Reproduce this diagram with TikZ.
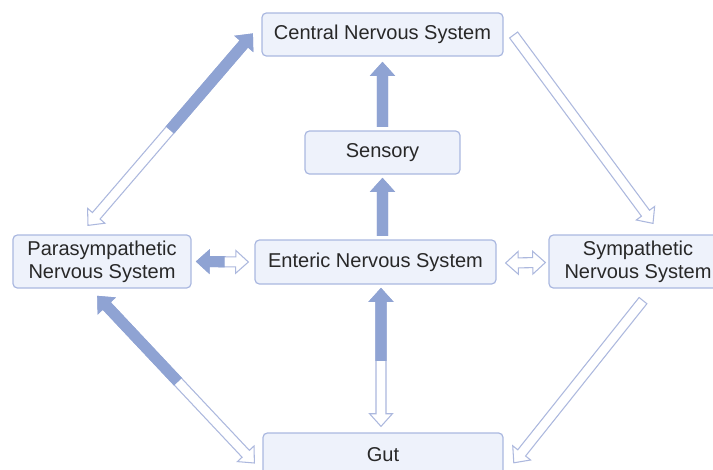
\documentclass[tikz,border=0pt]{standalone}
\usepackage{fontspec}
\setmainfont{Liberation Sans}
\usetikzlibrary{calc}

\definecolor{boxfill}{RGB}{238,242,251}
\definecolor{boxline}{RGB}{170,184,224}
\definecolor{arrowblue}{RGB}{143,163,211}
\definecolor{arrowline}{RGB}{172,184,222}
\definecolor{textgray}{RGB}{40,40,40}

\tikzset{
  sysbox/.style={draw=boxline, fill=boxfill, rounded corners=2.5pt, line width=0.7pt,
    inner sep=0pt, align=center, text=textgray, font=\fontsize{11.4}{13}\selectfont},
  hollowarrow/.style={draw=arrowline, fill=white, line width=0.6pt},
  filledarrow/.style={draw=arrowblue, fill=arrowblue, line width=0.6pt}
}

% block arrow from #1 to #2, head at #2; part from fraction #3 to #2 filled; #4=1 adds a head at #1
\newcommand{\blockarrow}[4]{%
  \pgfpointdiff{\pgfpointanchor{#1}{center}}{\pgfpointanchor{#2}{center}}%
  \pgfgetlastxy{\bdx}{\bdy}%
  \pgfmathsetmacro{\bang}{atan2(\bdy,\bdx)}%
  \pgfmathsetmacro{\blen}{veclen(\bdx,\bdy)}%
  \pgfmathsetmacro{\bhb}{\blen-7.2}%
  \pgfmathsetmacro{\bsp}{#3*\blen}%
  \begin{scope}[shift={(#1)}, rotate=\bang]
    \ifnum#4=1
      \draw[hollowarrow] (0pt,0pt) -- (7.2pt,6.5pt) -- (7.2pt,2.85pt) -- (\bhb pt,2.85pt)
        -- (\bhb pt,6.5pt) -- (\blen pt,0pt) -- (\bhb pt,-6.5pt) -- (\bhb pt,-2.85pt)
        -- (7.2pt,-2.85pt) -- (7.2pt,-6.5pt) -- cycle;
    \else
      \draw[hollowarrow] (0pt,-2.85pt) -- (\bhb pt,-2.85pt) -- (\bhb pt,-6.5pt) -- (\blen pt,0pt)
        -- (\bhb pt,6.5pt) -- (\bhb pt,2.85pt) -- (0pt,2.85pt) -- cycle;
    \fi
    \ifdim#3pt<1pt
      \filldraw[filledarrow] (\bsp pt,-2.85pt) -- (\bhb pt,-2.85pt) -- (\bhb pt,-6.5pt) -- (\blen pt,0pt)
        -- (\bhb pt,6.5pt) -- (\bhb pt,2.85pt) -- (\bsp pt,2.85pt) -- cycle;
    \fi
  \end{scope}
}

\begin{document}
\begin{tikzpicture}
  \useasboundingbox (0,0) rectangle (14.26,-9.38);

  % systems
  \node[sysbox, minimum width=4.82cm, minimum height=0.86cm] (cns) at (7.65,-0.69) {Central Nervous System};
  \node[sysbox, minimum width=3.10cm, minimum height=0.86cm] (sens) at (7.65,-3.05) {Sensory};
  \node[sysbox, minimum width=4.82cm, minimum height=0.88cm] (ens) at (7.51,-5.24) {Enteric Nervous System};
  \node[sysbox, minimum width=3.56cm, minimum height=1.06cm] (para) at (2.04,-5.23) {Parasympathetic\\Nervous System};
  \node[sysbox, minimum width=3.56cm, minimum height=1.06cm] (symp) at (12.76,-5.23) {Sympathetic\\Nervous System};
  \node[sysbox, minimum width=4.80cm, minimum height=0.86cm] (gut) at (7.66,-9.09) {Gut};

  % arrow ends
  \coordinate (pc1) at ($(para.north)+(-0.28,0.18)$);
  \coordinate (pc2) at ($(cns.west)+(-0.18,0.01)$);
  \coordinate (cs1) at ($(cns.east)+(0.20,-0.01)$);
  \coordinate (cs2) at ($(symp.north)+(0.30,0.22)$);
  \coordinate (pe1) at ($(ens.west)+(-0.12,0)$);
  \coordinate (pe2) at ($(para.east)+(0.10,0)$);
  \coordinate (es1) at ($(ens.east)+(0.18,-0.02)$);
  \coordinate (es2) at ($(symp.west)+(-0.06,-0.02)$);
  \coordinate (sc1) at ($(sens.north)+(0,0.08)$);
  \coordinate (sc2) at ($(cns.south)+(0,-0.12)$);
  \coordinate (es3) at ($(sens.south|-ens.north)+(0,0.08)$);
  \coordinate (es4) at ($(sens.south)+(0,-0.08)$);
  \coordinate (ge1) at ($(sens.south|-gut.north)+(-0.03,0.12)$);
  \coordinate (ge2) at ($(sens.south|-ens.south)+(-0.03,-0.08)$);
  \coordinate (gp1) at ($(gut.west)+(-0.16,-0.17)$);
  \coordinate (gp2) at ($(para.south)+(-0.10,-0.14)$);
  \coordinate (sg1) at ($(symp.south)+(0.10,-0.24)$);
  \coordinate (sg2) at ($(gut.east)+(0.20,-0.17)$);

  % connections
  \blockarrow{pc1}{pc2}{0.5}{1}
  \blockarrow{cs1}{cs2}{1}{0}
  \blockarrow{pe1}{pe2}{0.47}{1}
  \blockarrow{es1}{es2}{1}{1}
  \blockarrow{sc1}{sc2}{0}{0}
  \blockarrow{es3}{es4}{0}{0}
  \blockarrow{ge1}{ge2}{0.48}{1}
  \blockarrow{gp1}{gp2}{0.49}{1}
  \blockarrow{sg1}{sg2}{1}{0}
\end{tikzpicture}
\end{document}
